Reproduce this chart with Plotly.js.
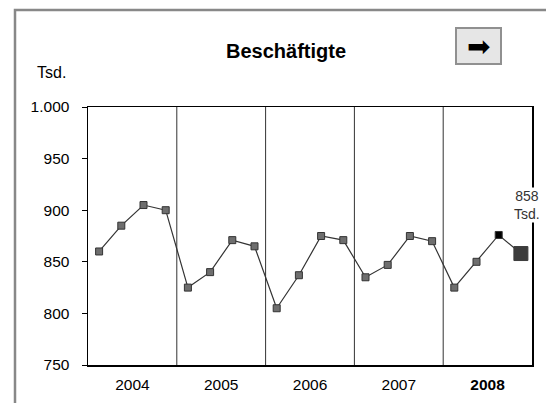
<!DOCTYPE html>
<html>
<head>
<meta charset="utf-8">
<script src="https://cdn.plot.ly/plotly-3.0.1.min.js"></script>
<style>html,body{margin:0;padding:0;background:#fff;}#chart{width:546px;height:403px;}</style>
</head>
<body>
<div id="chart"></div>
<script>
// Data
var years = ['2004', '2005', '2006', '2007', '2008'];
var quarters = ['Q1', 'Q2', 'Q3', 'Q4'];
var values = [860, 885, 905, 900,
              825, 840, 871, 865,
              805, 837, 875, 871,
              835, 847, 875, 870,
              825, 850, 876, 858];
var lastLabel = '858<br>Tsd.';
var yTicks = [750, 800, 850, 900, 950, 1000];
var yTickText = ['750', '800', '850', '900', '950', '1.000'];

var n = values.length;
var xs = values.map(function (v, i) { return i; });
var sizes = values.map(function (v, i) { return i === n - 1 ? 14 : 7; });
var colors = values.map(function (v, i) { return i === n - 1 ? '#3c3c3c' : (i === n - 2 ? '#000000' : '#6e6e6e'); });
var lineColors = values.map(function (v, i) { return i === n - 1 ? '#3c3c3c' : '#333333'; });

var yearCenters = years.map(function (y, i) { return i * quarters.length + (quarters.length - 1) / 2; });
var yearText = years.map(function (y, i) { return i === years.length - 1 ? '<b>' + y + '</b>' : y; });

var L = 88, R = 532, T = 107, B = 365;
function px(x) { return (x - L) / (R - L); }
function py(y) { return (B - y) / (B - T); }

var shapes = [];
for (var k = 1; k < years.length; k++) {
  var sx = k * quarters.length - 0.5;
  shapes.push({type: 'line', xref: 'x', yref: 'paper', x0: sx, x1: sx, y0: 0, y1: 1,
               line: {color: '#333333', width: 1}});
}
// outer frame
shapes.push({type: 'rect', xref: 'paper', yref: 'paper', x0: px(15), x1: px(580), y0: py(10), y1: py(440),
             line: {color: '#888888', width: 2.5}, fillcolor: 'rgba(0,0,0,0)', layer: 'below'});
// button
shapes.push({type: 'rect', xref: 'paper', yref: 'paper', x0: px(456), x1: px(501), y0: py(28), y1: py(64),
             line: {color: '#909090', width: 2}, fillcolor: '#e6e6e6'});

var trace = {
  x: xs, y: values, type: 'scatter', mode: 'lines+markers',
  line: {color: '#333333', width: 1.2},
  marker: {symbol: 'square', size: sizes, color: colors, opacity: 1, line: {color: lineColors, width: 1}},
  hoverinfo: 'skip'
};

var layout = {
  width: 546, height: 403,
  margin: {l: L, r: 546 - R, t: T, b: 403 - B, pad: 0},
  paper_bgcolor: '#ffffff', plot_bgcolor: '#ffffff',
  font: {family: 'Liberation Sans, Arial, sans-serif', size: 15, color: '#000'},
  showlegend: false,
  title: {text: '<b>Beschäftigte</b>', font: {size: 20, color: '#000'},
          x: 286 / 546, xref: 'container', xanchor: 'center',
          y: 1 - 51 / 403, yref: 'container', yanchor: 'middle'},
  xaxis: {range: [-0.5, n - 0.5], tickmode: 'array', tickvals: yearCenters, ticktext: yearText,
          showgrid: false, zeroline: false, showline: true, mirror: true, linecolor: '#000', linewidth: 1.5,
          ticks: 'outside', ticklen: 5, tickcolor: 'rgba(0,0,0,0)', tickfont: {size: 15.5}},
  yaxis: {range: [750, 1000], tickmode: 'array', tickvals: yTicks, ticktext: yTickText,
          showgrid: false, zeroline: false, showline: true, mirror: true, linecolor: '#000', linewidth: 1.5,
          ticks: 'outside', ticklen: 5, tickcolor: '#000', tickwidth: 1, ticklabelstandoff: 9, tickfont: {size: 15.5}},
  shapes: shapes,
  annotations: [
    {text: 'Tsd.', xref: 'paper', yref: 'paper', x: px(51), y: py(72), xanchor: 'center', yanchor: 'middle',
     showarrow: false, font: {size: 16, color: '#000'}},
    {text: lastLabel, xref: 'paper', yref: 'paper', x: px(527), y: py(205), xanchor: 'center', yanchor: 'middle',
     showarrow: false, bgcolor: '#ffffff', font: {size: 14, color: '#333'}, borderpad: 0},
    {text: '➡', xref: 'paper', yref: 'paper', x: px(478), y: py(46), xanchor: 'center', yanchor: 'middle',
     showarrow: false, font: {family: 'DejaVu Sans', size: 28, color: '#000'}}
  ]
};

Plotly.newPlot('chart', [trace], layout, {staticPlot: true, displayModeBar: false});
</script>
</body>
</html>
